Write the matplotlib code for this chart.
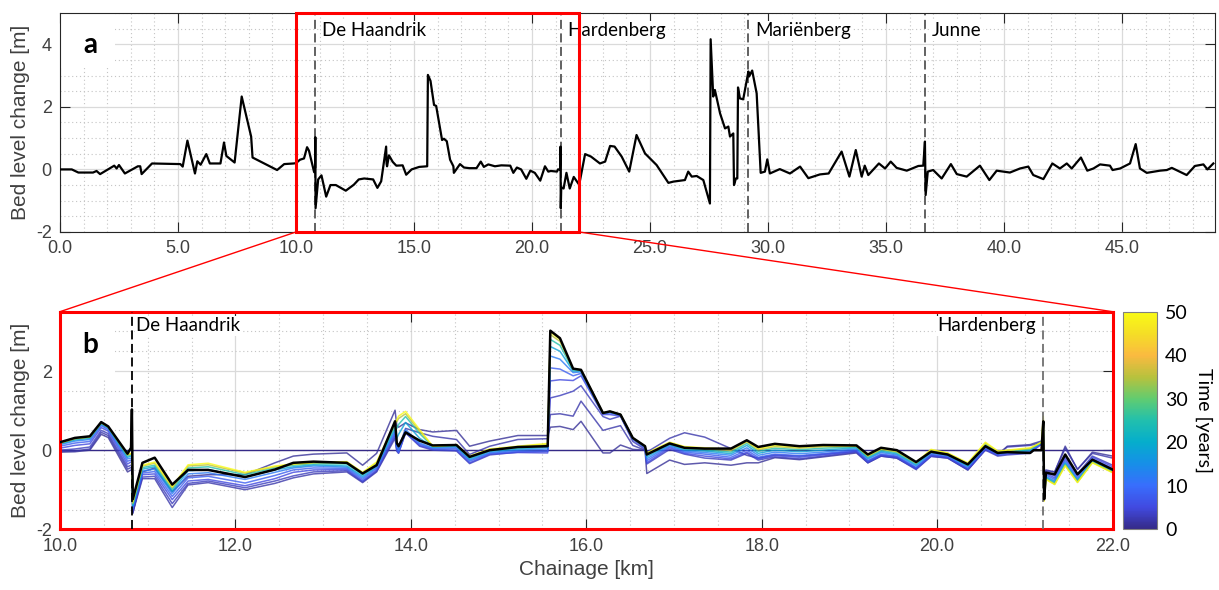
import numpy as np
import matplotlib
matplotlib.use("Agg")
import matplotlib.pyplot as plt
from matplotlib.colors import LinearSegmentedColormap, Normalize
from matplotlib.cm import ScalarMappable
from matplotlib.patches import Rectangle, ConnectionPatch
from matplotlib.ticker import MultipleLocator, FormatStrFormatter

plt.rcParams['font.family'] = ['Liberation Sans', 'DejaVu Sans']
plt.rcParams['axes.unicode_minus'] = False

# bed level change along the whole Vecht, upstream of the zoomed reach (km, m)
up_km = [0.0, 0.5, 0.78, 1.4, 1.55, 1.7, 2.3, 2.4, 2.5, 2.75, 3.3, 3.4, 3.46, 3.9,
         5.1, 5.2, 5.4, 5.72, 5.82, 5.96, 6.2, 6.35, 6.8, 6.95, 7.05, 7.4, 7.7,
         8.1, 8.16, 9.2, 9.5, 9.9]
up_dz = [0.0, 0.0, -0.1, -0.1, -0.05, -0.15, 0.12, 0.03, 0.14, -0.13, 0.1, 0.1, -0.15, 0.19,
         0.17, 0.09, 0.92, -0.13, 0.26, 0.15, 0.49, 0.19, 0.19, 0.86, 0.43, 0.22, 2.33,
         1.05, 0.38, -0.02, 0.17, 0.19]

# downstream of the zoomed reach
down_km = [22.25, 22.5, 22.88, 23.1, 23.31, 23.5, 23.8, 24.12, 24.43, 24.79, 25.28, 25.78,
           25.99, 26.48, 26.62, 26.77, 26.98, 27.26, 27.54, 27.57, 27.68, 27.75, 27.97,
           28.18, 28.32, 28.39, 28.53, 28.56, 28.64, 28.70, 28.73, 28.81, 28.95, 29.17,
           29.20, 29.33, 29.52, 29.69, 29.87, 29.97, 30.08, 30.5, 30.93, 31.36, 31.71,
           32.2, 32.57, 33.12, 33.45, 33.72, 33.97, 34.1, 34.25, 34.7, 34.96, 35.2, 35.45,
           35.88, 36.37, 36.58, 36.65, 36.68, 36.77, 37.0, 37.36, 37.75, 38.0, 38.42,
           38.98, 39.38, 39.69, 40.25, 40.68, 41.03, 41.24, 41.67, 42.05, 42.37, 42.66,
           42.87, 43.26, 43.53, 43.79, 44.07, 44.49, 44.6, 44.92, 45.34, 45.58, 45.76,
           46.05, 46.61, 46.9, 47.11, 47.74, 48.09, 48.45, 48.62, 48.87]
down_dz = [0.49, 0.41, 0.19, 0.25, 0.75, 0.73, 0.41, -0.07, 1.1, 0.51, 0.14, -0.43,
           -0.39, -0.34, -0.07, -0.23, -0.21, -0.34, -1.09, 4.16, 2.33, 2.54, 1.79,
           1.31, 1.37, 1.05, 1.15, -0.5, -0.29, -0.29, 2.62, 2.27, 2.24, 3.13,
           2.97, 3.16, 2.43, -0.11, -0.07, 0.32, -0.13, 0.01, -0.13, 0.09, -0.28,
           -0.16, -0.13, 0.57, -0.23, 0.62, -0.23, 0.12, -0.18, 0.19, 0.03, 0.25, 0.05,
           -0.04, 0.11, 0.12, 0.89, -0.82, -0.07, -0.02, -0.29, 0.17, -0.15, -0.23,
           0.12, -0.34, -0.04, -0.1, 0.03, 0.09, -0.18, -0.31, 0.19, 0.03, 0.19,
           0.03, 0.38, -0.04, 0.03, 0.16, 0.12, -0.02, 0.03, 0.19, 0.81, 0.03,
           -0.11, -0.04, -0.02, 0.05, -0.18, 0.11, 0.16, 0.0, 0.19]

# zoomed reach De Haandrik - Hardenberg (panel b)
reach_km = [10.00, 10.17, 10.34, 10.47, 10.55, 10.77, 10.81, 10.82, 10.83, 10.94,
            11.08, 11.28, 11.46, 11.69, 12.11, 12.45, 12.66, 12.89, 13.27, 13.45,
            13.61, 13.82, 13.84, 13.86, 13.94, 14.10, 14.25, 14.52, 14.67, 14.90,
            15.22, 15.56, 15.59, 15.70, 15.85, 15.94, 16.19, 16.27, 16.39, 16.53,
            16.67, 16.69, 16.95, 17.12, 17.35, 17.65, 17.83, 17.96, 18.15, 18.43,
            18.70, 19.08, 19.21, 19.36, 19.54, 19.76, 19.93, 20.12, 20.35, 20.55,
            20.69, 20.80, 21.06, 21.10, 21.19, 21.21, 21.22, 21.24, 21.34, 21.46,
            21.60, 21.77, 22.00]
reach_dz = [0.20, 0.31, 0.35, 0.71, 0.60, -0.09, 0.06, 1.03, -1.24, -0.32,
            -0.19, -0.87, -0.50, -0.50, -0.68, -0.49, -0.32, -0.29, -0.32, -0.59,
            -0.38, 0.73, 0.18, 0.10, 0.45, 0.24, 0.12, 0.13, -0.17, 0.00,
            0.08, 0.10, 3.02, 2.83, 2.06, 2.03, 0.94, 0.98, 0.90, 0.31,
            0.10, -0.11, 0.17, 0.06, 0.04, 0.04, 0.25, 0.08, 0.16, 0.10,
            0.13, 0.12, -0.11, 0.06, 0.00, -0.30, -0.04, -0.11, -0.36, 0.10,
            -0.07, -0.05, -0.07, 0.00, 0.00, 0.73, -1.24, -0.57, -0.61, -0.11,
            -0.61, -0.24, -0.49]

# modelled bed level change in the reach after a number of years
years = [1, 2, 3, 5, 8, 12, 18, 25, 35, 50]
dz_y1 = [-0.05, -0.04, 0.00, 0.40, 0.32, -0.55, -0.50, -0.50, -1.60, -0.55,
         -0.45, -1.05, -0.66, -0.62, -0.62, -0.32, -0.15, -0.10, -0.07, -0.38,
         -0.08, 1.01, 0.62, 0.58, 0.69, 0.52, 0.46, 0.50, 0.10, 0.23,
         0.37, 0.37, 0.58, 0.60, 0.52, 0.73, -0.07, -0.07, 0.13, 0.02,
         0.00, -0.59, -0.25, -0.36, -0.32, -0.38, -0.32, -0.32, -0.19, -0.24,
         -0.17, -0.07, -0.32, -0.15, -0.20, -0.47, -0.15, -0.20, -0.50, 0.02,
         -0.12, 0.10, 0.14, 0.17, 0.23, 0.20, -0.60, -0.53, -0.55, 0.10,
         -0.49, -0.05, -0.15]
dz_y2 = [-0.03, -0.02, 0.03, 0.45, 0.37, -0.48, -0.44, -0.44, -1.58, -0.72,
         -0.72, -1.45, -0.88, -0.82, -1.00, -0.84, -0.70, -0.60, -0.55, -0.82,
         -0.55, 0.30, 0.00, 0.05, 0.55, 0.44, 0.35, 0.27, -0.11, 0.10,
         0.27, 0.29, 0.90, 0.92, 0.86, 1.24, 0.50, 0.55, 0.62, 0.12,
         0.00, -0.05, 0.30, 0.44, 0.33, 0.04, -0.13, -0.20, -0.12, -0.15,
         -0.10, -0.03, -0.28, -0.12, -0.17, -0.45, -0.12, -0.18, -0.48, 0.04,
         -0.10, 0.08, 0.12, 0.14, 0.20, 0.20, -0.70, -0.50, -0.55, 0.05,
         -0.48, -0.08, -0.20]
dz_y3 = [0.00, 0.03, 0.08, 0.50, 0.42, -0.42, -0.38, -0.38, -1.55, -0.68,
         -0.66, -1.35, -0.84, -0.78, -0.95, -0.78, -0.65, -0.55, -0.52, -0.80,
         -0.53, 0.35, -0.03, -0.08, 0.44, 0.10, 0.00, -0.02, -0.34, -0.12,
         -0.05, -0.03, 1.32, 1.38, 1.49, 1.63, 0.85, 0.78, 0.86, 0.22,
         0.02, -0.35, 0.02, -0.10, -0.20, -0.25, -0.08, -0.25, -0.17, -0.22,
         -0.15, -0.05, -0.32, -0.15, -0.20, -0.49, -0.16, -0.20, -0.50, 0.00,
         -0.15, -0.12, -0.08, 0.00, 0.15, 0.30, -0.90, -0.55, -0.65, -0.15,
         -0.60, -0.15, -0.38]
dz_y5 = [0.05, 0.12, 0.16, 0.57, 0.48, -0.35, -0.30, -0.30, -1.50, -0.62,
         -0.60, -1.25, -0.78, -0.74, -0.90, -0.72, -0.56, -0.50, -0.49, -0.78,
         -0.50, 0.40, 0.00, -0.07, 0.44, 0.12, 0.02, 0.00, -0.32, -0.10,
         -0.06, -0.07, 1.75, 1.78, 1.76, 1.88, 0.90, 0.90, 0.86, 0.27,
         0.05, -0.32, 0.06, -0.08, -0.15, -0.22, -0.05, -0.22, -0.14, -0.18,
         -0.12, -0.03, -0.30, -0.13, -0.18, -0.47, -0.14, -0.18, -0.48, 0.02,
         -0.13, -0.10, -0.06, 0.02, 0.16, 0.40, -1.00, -0.58, -0.70, -0.20,
         -0.65, -0.18, -0.42]
dz_y8 = [0.10, 0.18, 0.22, 0.62, 0.52, -0.28, -0.25, -0.25, -1.47, -0.58,
         -0.54, -1.17, -0.70, -0.66, -0.83, -0.64, -0.50, -0.45, -0.46, -0.74,
         -0.46, 0.45, 0.05, -0.05, 0.48, 0.15, 0.04, 0.04, -0.28, -0.08,
         -0.03, -0.02, 2.08, 2.05, 1.88, 1.94, 0.92, 0.94, 0.88, 0.29,
         0.07, -0.27, 0.09, -0.05, -0.10, -0.18, 0.00, -0.18, -0.10, -0.14,
         -0.09, 0.00, -0.27, -0.10, -0.15, -0.44, -0.11, -0.16, -0.45, 0.05,
         -0.11, -0.08, -0.04, 0.04, 0.17, 0.50, -1.05, -0.62, -0.74, -0.25,
         -0.70, -0.22, -0.46]
dz_y12 = [0.14, 0.23, 0.27, 0.65, 0.55, -0.22, -0.20, -0.20, -1.44, -0.53,
          -0.48, -1.10, -0.60, -0.57, -0.74, -0.56, -0.45, -0.40, -0.43, -0.70,
          -0.43, 0.50, 0.10, 0.00, 0.52, 0.18, 0.06, 0.07, -0.25, -0.06,
          0.00, 0.03, 2.38, 2.30, 1.96, 1.98, 0.93, 0.96, 0.89, 0.30,
          0.08, -0.22, 0.12, -0.02, -0.06, -0.13, 0.06, -0.13, -0.05, -0.09,
          -0.05, 0.03, -0.23, -0.06, -0.12, -0.40, -0.08, -0.14, -0.42, 0.08,
          -0.09, -0.06, -0.02, 0.06, 0.18, 0.55, -1.10, -0.66, -0.78, -0.30,
          -0.74, -0.26, -0.50]
dz_y18 = [0.16, 0.26, 0.30, 0.67, 0.57, -0.18, -0.15, -0.15, -1.40, -0.48,
          -0.42, -1.04, -0.52, -0.49, -0.68, -0.50, -0.42, -0.37, -0.40, -0.66,
          -0.40, 0.56, 0.30, 0.40, 0.70, 0.30, 0.08, 0.10, -0.22, -0.03,
          0.03, 0.07, 2.62, 2.50, 2.00, 2.00, 0.94, 0.97, 0.90, 0.30,
          0.09, -0.17, 0.14, 0.01, -0.02, -0.09, 0.12, -0.08, 0.00, -0.04,
          0.00, 0.06, -0.20, -0.03, -0.09, -0.37, -0.05, -0.12, -0.40, 0.10,
          -0.07, -0.05, 0.00, 0.07, 0.19, 0.60, -1.15, -0.69, -0.81, -0.33,
          -0.77, -0.28, -0.53]
dz_y25 = [0.17, 0.28, 0.32, 0.68, 0.58, -0.14, -0.12, -0.12, -1.37, -0.44,
          -0.38, -0.99, -0.45, -0.42, -0.62, -0.45, -0.38, -0.34, -0.35, -0.62,
          -0.36, 0.62, 0.55, 0.65, 0.85, 0.42, 0.09, 0.12, -0.19, 0.00,
          0.06, 0.11, 2.80, 2.65, 2.03, 2.02, 0.94, 0.97, 0.90, 0.30,
          0.09, -0.12, 0.17, 0.04, 0.01, -0.05, 0.17, -0.03, 0.05, 0.01,
          0.05, 0.08, -0.17, 0.00, -0.06, -0.34, -0.02, -0.10, -0.37, 0.14,
          -0.05, -0.03, 0.02, 0.08, 0.20, 0.70, -1.20, -0.71, -0.84, -0.36,
          -0.79, -0.30, -0.55]
dz_y35 = [0.18, 0.29, 0.33, 0.69, 0.59, -0.12, -0.10, -0.10, -1.34, -0.40,
          -0.33, -0.95, -0.40, -0.37, -0.58, -0.42, -0.36, -0.32, -0.31, -0.58,
          -0.32, 0.67, 0.72, 0.80, 0.92, 0.48, 0.10, 0.13, -0.17, 0.02,
          0.08, 0.15, 2.92, 2.75, 2.05, 2.03, 0.94, 0.98, 0.90, 0.31,
          0.10, -0.09, 0.19, 0.07, 0.04, -0.01, 0.21, 0.01, 0.09, 0.05,
          0.09, 0.10, -0.15, 0.02, -0.04, -0.32, 0.00, -0.08, -0.35, 0.17,
          -0.03, -0.01, 0.04, 0.09, 0.20, 0.80, -1.25, -0.73, -0.86, -0.38,
          -0.81, -0.31, -0.56]
dz_y50 = [0.19, 0.30, 0.34, 0.70, 0.59, -0.10, -0.08, -0.08, -1.30, -0.38,
          -0.30, -0.92, -0.37, -0.33, -0.56, -0.40, -0.35, -0.31, -0.29, -0.56,
          -0.30, 0.70, 0.77, 0.86, 0.98, 0.52, 0.10, 0.14, -0.15, 0.03,
          0.10, 0.17, 2.98, 2.80, 2.06, 2.03, 0.94, 0.98, 0.90, 0.31,
          0.10, -0.07, 0.20, 0.09, 0.06, 0.02, 0.23, 0.04, 0.12, 0.08,
          0.11, 0.11, -0.13, 0.04, -0.02, -0.31, 0.02, -0.07, -0.32, 0.20,
          -0.02, 0.00, 0.06, 0.10, 0.20, 0.86, -1.29, -0.74, -0.87, -0.40,
          -0.82, -0.32, -0.57]
snapshots = [dz_y1, dz_y2, dz_y3, dz_y5, dz_y8, dz_y12, dz_y18, dz_y25, dz_y35, dz_y50]

# weirs along the river
weir_names = ["De Haandrik", "Hardenberg", "Mariënberg", "Junne"]
weir_km = [10.82, 21.21, 29.14, 36.65]

# parula-like colour map for time
parula = LinearSegmentedColormap.from_list("parula", [
    (0.00, (0.208, 0.166, 0.529)),
    (0.10, (0.255, 0.290, 0.880)),
    (0.20, (0.220, 0.430, 0.990)),
    (0.30, (0.090, 0.560, 0.910)),
    (0.40, (0.020, 0.680, 0.800)),
    (0.50, (0.130, 0.750, 0.680)),
    (0.60, (0.380, 0.800, 0.440)),
    (0.70, (0.720, 0.760, 0.240)),
    (0.80, (0.980, 0.730, 0.250)),
    (0.90, (0.960, 0.870, 0.150)),
    (1.00, (0.977, 0.984, 0.081)),
])
norm = Normalize(0, 50)

TXT = '#404040'
LABEL_FONT = ['Lato', 'DejaVu Sans']


def style_axes(ax, xminor):
    ax.set_axisbelow(True)
    ax.xaxis.set_minor_locator(MultipleLocator(xminor))
    ax.yaxis.set_minor_locator(MultipleLocator(0.5))
    ax.grid(which='major', color='#dadada', lw=0.9)
    ax.grid(which='minor', color='#c4c4c4', lw=0.8, ls=(0, (1, 2.5)))
    ax.tick_params(which='major', direction='in', length=7, width=0.8, color='#262626',
                   top=True, right=True, labelsize=13, labelcolor=TXT, pad=6)
    ax.tick_params(which='minor', length=0)
    ax.xaxis.set_major_formatter(FormatStrFormatter('%.1f'))


fig = plt.figure(figsize=(12.19, 5.90), dpi=100)
ax_a = fig.add_axes([0.0492, 0.6068, 0.9475, 0.3712])
ax_b = fig.add_axes([0.0492, 0.1029, 0.8635, 0.3688])
cax = fig.add_axes([0.921, 0.1029, 0.0279, 0.3688])

# ---- panel a: whole river
a_km = np.concatenate([up_km, reach_km, down_km])
a_dz = np.concatenate([up_dz, reach_dz, down_dz])
style_axes(ax_a, 1.0)
ax_a.plot(a_km, a_dz, color='black', lw=1.6, zorder=3)
ax_a.set_xlim(0, 48.94)
ax_a.set_ylim(-2, 5)
ax_a.set_xticks(np.arange(0, 46, 5))
ax_a.set_yticks([-2, 0, 2, 4])
ax_a.set_ylabel('Bed level change [m]', fontsize=15, color=TXT, labelpad=4)
for s in ax_a.spines.values():
    s.set_color('#262626')
    s.set_linewidth(0.8)

for name, km in zip(weir_names, weir_km):
    ax_a.axvline(km, color='#555555', lw=1.3, ls=(0, (5, 2.5)), zorder=2.5)
    ax_a.text(km + 0.3, 4.43, name, fontsize=13.5, family=LABEL_FONT, va='center',
              ha='left', color='black', zorder=4,
              bbox=dict(facecolor='white', edgecolor='none', pad=1))

ax_a.add_patch(Rectangle((0, 0.749), 0.0476, 0.251, transform=ax_a.transAxes,
                         facecolor='white', edgecolor='none', zorder=1))
ax_a.text(1.27, 3.98, 'a', fontsize=20, fontweight='bold', family=LABEL_FONT,
          ha='center', va='center', zorder=4)

ax_a.add_patch(Rectangle((10, -2), 12, 7, fill=False, edgecolor='red', lw=2.2,
                         zorder=6, clip_on=False))

# ---- panel b: zoom on De Haandrik - Hardenberg
style_axes(ax_b, 0.5)
ax_b.plot(reach_km, np.zeros(len(reach_km)), color=parula(0.0), lw=1.0, zorder=2)
for yr, dz in zip(years, snapshots):
    ax_b.plot(reach_km, dz, color=parula(norm(yr)), lw=1.1, alpha=0.8, zorder=2)
ax_b.plot(reach_km, reach_dz, color='black', lw=1.8, zorder=4)
ax_b.set_xlim(10, 22)
ax_b.set_ylim(-2, 3.5)
ax_b.set_xticks(np.arange(10, 22.1, 2))
ax_b.set_yticks([-2, 0, 2])
ax_b.set_ylabel('Bed level change [m]', fontsize=15, color=TXT, labelpad=4)
ax_b.set_xlabel('Chainage [km]', fontsize=15, color=TXT, labelpad=4)
for s in ax_b.spines.values():
    s.set_color('red')
    s.set_linewidth(2.2)

ax_b.axvline(weir_km[0], color='black', lw=1.3, ls=(0, (5, 2.5)), zorder=3)
ax_b.axvline(weir_km[1], color='#707070', lw=1.3, ls=(0, (5, 2.5)), zorder=3)
ax_b.text(weir_km[0] + 0.05, 3.14, weir_names[0], fontsize=13.5, family=LABEL_FONT,
          ha='left', va='center', zorder=5,
          bbox=dict(facecolor='white', edgecolor='none', pad=1))
ax_b.text(weir_km[1] - 0.08, 3.14, weir_names[1], fontsize=13.5, family=LABEL_FONT,
          ha='right', va='center', zorder=5,
          bbox=dict(facecolor='white', edgecolor='none', pad=1))
ax_b.add_patch(Rectangle((0, 0.695), 0.0523, 0.305, transform=ax_b.transAxes,
                         facecolor='white', edgecolor='none', zorder=1))
ax_b.text(10.34, 2.67, 'b', fontsize=20, fontweight='bold', family=LABEL_FONT,
          ha='center', va='center', zorder=5)

# zoom connectors
for xa, xb in [(10, 0), (22, 1)]:
    con = ConnectionPatch(xyA=(xa, -2), coordsA=ax_a.transData,
                          xyB=(xb, 1), coordsB=ax_b.transAxes,
                          color='red', lw=1.0)
    fig.add_artist(con)

# ---- colour bar
sm = ScalarMappable(norm=norm, cmap=parula)
cb = fig.colorbar(sm, cax=cax)
cb.set_ticks([0, 10, 20, 30, 40, 50])
cb.ax.tick_params(labelsize=14, length=0, pad=6)
for lbl in cb.ax.get_yticklabels():
    lbl.set_family(LABEL_FONT)
cb.set_label('Time [years]', rotation=270, fontsize=14, family=LABEL_FONT, labelpad=18)
cb.outline.set_edgecolor('#808080')
cb.outline.set_linewidth(0.8)

fig.savefig('out.png', dpi=100)
